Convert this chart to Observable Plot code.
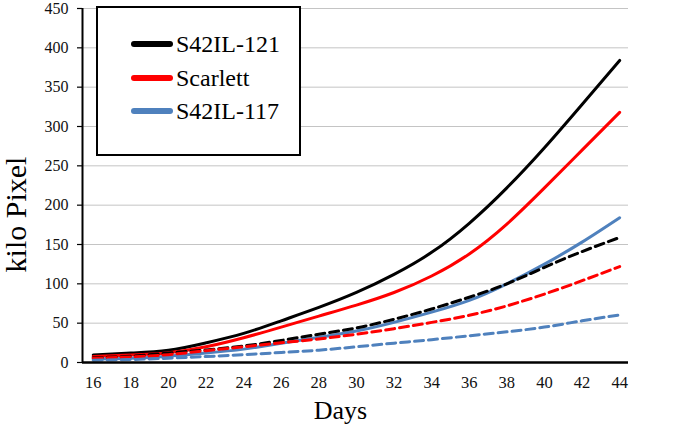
<!DOCTYPE html>
<html>
<head>
<meta charset="utf-8">
<script src="https://cdn.jsdelivr.net/npm/d3@7"></script>
<script src="https://cdn.jsdelivr.net/npm/@observablehq/plot@0.6"></script>
<style>
  html, body { margin: 0; padding: 0; background: #fff; }
  #wrap { position: relative; width: 678px; height: 431px; overflow: hidden; }
  #legend { position: absolute; left: 96px; top: 6px; width: 201px; height: 146px;
            border: 2px solid #000; background: #fff; }
  .row { position: absolute; left: 0; height: 30px; display: flex; align-items: center; }
  .sw { width: 42px; height: 6px; border-radius: 3px; margin-left: 33px; margin-right: 3px; }
  .lab { font-family: 'Liberation Serif', 'Times New Roman', serif; font-size: 24px; color: #000; line-height: 30px; }
</style>
</head>
<body>
<div id="wrap"></div>
<script>
// ---- data ----
const days = [16, 18, 20, 22, 24, 26, 28, 30, 32, 34, 36, 38, 40, 42, 44];
const s121Solid      = [9.5, 12, 15.5, 25, 37, 53, 70, 89, 112, 140, 177, 222, 273, 328, 384];
const scarlettSolid  = [7.5, 9.5, 12.5, 20, 31.5, 45, 59, 73, 89, 110, 138, 176, 222, 270, 318];
const s117Solid      = [4.5, 5.5, 8, 12, 17, 24.5, 32, 40, 51, 64, 79, 100, 125, 153, 184];
const s121Dashed     = [6, 8, 12, 16, 21, 28, 36, 44, 55, 68, 83, 100, 121, 141, 159];
const scarlettDashed = [5.5, 7, 10, 15, 20, 25, 30, 36, 43, 51, 60, 72, 87, 104, 122];
const s117Dashed     = [3, 3.8, 5.5, 7.6, 10, 12.7, 15.7, 20, 24.6, 29, 34, 39, 45, 53, 60.5];

const seriesNames  = ["S42IL-121", "Scarlett", "S42IL-117"];
const seriesColors = ["#000000", "#ff0000", "#4f81bd"];
const xTicks = [16, 18, 20, 22, 24, 26, 28, 30, 32, 34, 36, 38, 40, 42, 44];
const yTicks = [0, 50, 100, 150, 200, 250, 300, 350, 400, 450];
const xTitle = "Days";
const yTitle = "kilo Pixel";

// ---- build tables ----
const solids = [s121Solid, scarlettSolid, s117Solid];
const dashes = [s121Dashed, scarlettDashed, s117Dashed];
function table(vals) { return days.map((d, i) => ({day: d, value: vals[i]})); }

const xMin = 15.43, xMax = 44.47;
const serif = "'Liberation Serif', 'Times New Roman', serif";

const marks = [
  Plot.gridY(yTicks, {stroke: "#c4c4c4", strokeOpacity: 1, strokeWidth: 1}),
  Plot.axisY(yTicks, {tickSize: 5, tickPadding: 9, label: null, stroke: "#000", strokeWidth: 1.2, fontSize: 16, fontFamily: serif}),
  Plot.axisX(xTicks, {tickSize: 0, tickPadding: 14, label: null, fontSize: 16.5, fontFamily: serif}),
];
solids.forEach((s, i) => {
  marks.push(Plot.line(table(s), {x: "day", y: "value", stroke: seriesColors[i], strokeWidth: 3, curve: "natural"}));
});
dashes.forEach((s, i) => {
  marks.push(Plot.line(table(s), {x: "day", y: "value", stroke: seriesColors[i], strokeWidth: 3, strokeDasharray: "9,5", curve: "natural"}));
});
marks.push(Plot.ruleY([0], {stroke: "#000", strokeWidth: 2.5}));
marks.push(Plot.ruleX([xMin], {stroke: "#000", strokeWidth: 2}));
marks.push(Plot.text([xTitle], {frameAnchor: "bottom", dx: -15, dy: 56, fontSize: 26, fill: "#000", fontFamily: serif}));
marks.push(Plot.text([yTitle], {frameAnchor: "left", textAnchor: "middle", rotate: -90, dx: -66, dy: 29, fontSize: 30, fill: "#000", fontFamily: serif}));

const chart = Plot.plot({
  width: 678,
  height: 431,
  marginLeft: 82,
  marginRight: 50,
  marginTop: 8,
  marginBottom: 69,
  x: {domain: [xMin, xMax]},
  y: {domain: [0, 450]},
  style: {fontFamily: serif, fontSize: "16.5px", color: "#111", background: "#fff"},
  marks
});
const wrap = document.getElementById("wrap");
wrap.appendChild(chart);

// ---- legend (HTML overlay) ----
const legend = document.createElement("div");
legend.id = "legend";
const rowCenters = [35.7, 70.3, 103];
seriesNames.forEach((name, i) => {
  const row = document.createElement("div");
  row.className = "row";
  row.style.top = (rowCenters[i] - 15) + "px";
  const sw = document.createElement("div");
  sw.className = "sw";
  sw.style.background = seriesColors[i];
  const lab = document.createElement("span");
  lab.className = "lab";
  lab.style.fontFamily = serif;
  lab.textContent = name;
  row.appendChild(sw);
  row.appendChild(lab);
  legend.appendChild(row);
});
wrap.appendChild(legend);
</script>
</body>
</html>
